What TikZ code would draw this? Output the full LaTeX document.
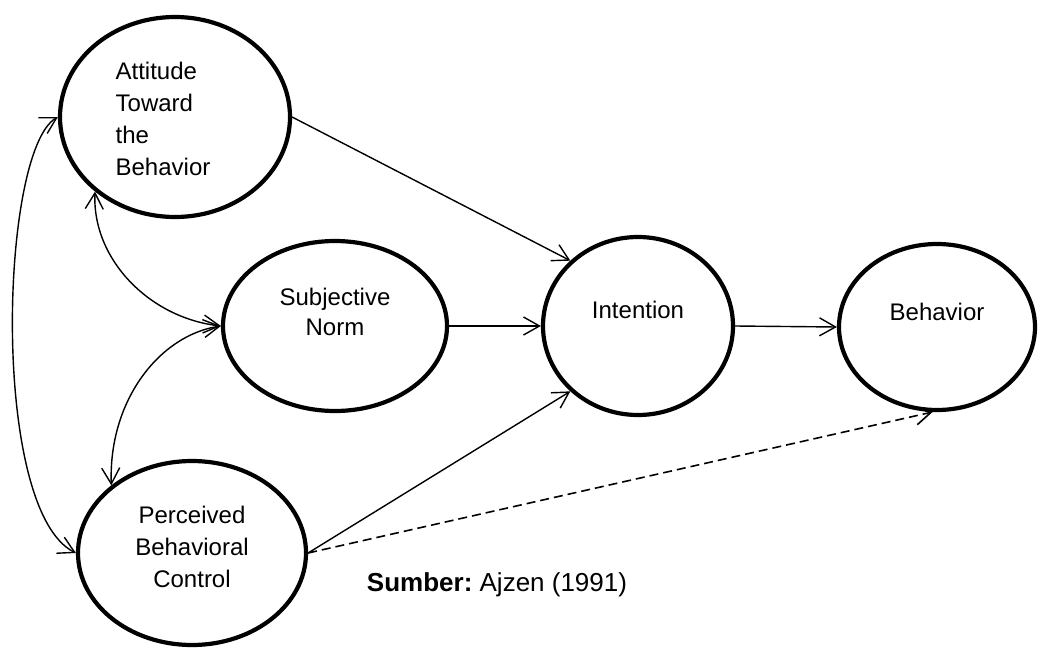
\documentclass[tikz,border=0pt]{standalone}
\usepackage{fontspec}
\setmainfont{Liberation Sans}
\usetikzlibrary{arrows.meta, shapes.geometric}
\tikzset{
  oval/.style={
    ellipse, draw=black, line width=2.1pt, inner sep=0pt
  },
  lbl/.style={font=\fontsize{12}{16}\selectfont, align=center},
  arrow/.style={-{Straight Barb[length=8pt,width=9pt]}, line width=0.7pt},
  biarrow/.style={{Straight Barb[length=8pt,width=9pt]}-{Straight Barb[length=8pt,width=9pt]}, line width=0.7pt},
  dasharrow/.style={arrow, line width=0.8pt, dash pattern=on 4.5pt off 2.5pt},
}

\begin{document}
\begin{tikzpicture}[x=0.5pt, y=-0.5pt]
  \useasboundingbox (0,0) rectangle (1039,648);

  \node[oval, minimum width=115pt, minimum height=100pt,
        label={[lbl, align=left, xshift=-6pt, yshift=-1pt]center:{Attitude\\Toward\\the\\Behavior}}]
        (att) at (175,117) {};
  \node[oval, minimum width=112pt, minimum height=85pt,
        label={[lbl, font=\fontsize{12}{15}\selectfont, yshift=7pt]center:{Subjective\\Norm}}]
        (sub) at (335,326) {};
  \node[oval, minimum width=95pt, minimum height=89pt,
        label={[lbl, yshift=8pt]center:Intention}]
        (int) at (638,326) {};
  \node[oval, minimum width=98pt, minimum height=83pt,
        label={[lbl, yshift=7.5pt]center:Behavior}]
        (beh) at (937,327) {};
  \node[oval, minimum width=114pt, minimum height=92pt,
        label={[lbl, yshift=3pt]center:{Perceived\\Behavioral\\Control}}]
        (per) at (192,553) {};

  \node[font=\fontsize{13}{16}\selectfont, anchor=base] (src) at (497,591)
    {\textbf{Sumber:}\ Ajzen (1991)};

  % direct paths
  \draw[arrow] (att.east) -- (int.136);
  \draw[arrow] (sub.east) -- (int.west);
  \draw[arrow] (per.east) -- (int.224);
  \draw[arrow] (int.east) -- (beh.west);
  \draw[dasharrow] (per.east) -- (beh.267);

  % correlations
  \draw[biarrow] (att.west) .. controls +(-58,33) and +(-86,-43) .. (per.west);
  \draw[biarrow] (att.223) .. controls +(-3,68) and +(-71,-8) .. (sub.west);
  \draw[biarrow] (sub.west) .. controls +(-61,9) and +(-3,-85) .. (per.140);
\end{tikzpicture}
\end{document}
